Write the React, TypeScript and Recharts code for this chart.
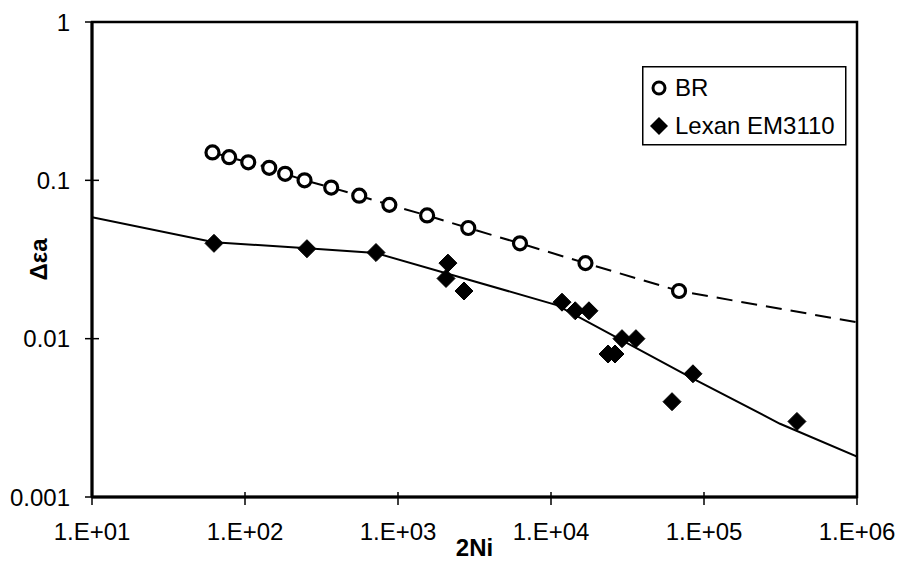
import React from "react";
import {
  ComposedChart,
  XAxis,
  YAxis,
  Line,
  Scatter,
  Legend,
  ReferenceArea,
  Label,
} from "recharts";

const FONT = '"Liberation Sans", Arial, sans-serif';

// axis ticks
const xTicks = [10, 100, 1000, 10000, 100000, 1000000];
const xTickLabels = ["1.E+01", "1.E+02", "1.E+03", "1.E+04", "1.E+05", "1.E+06"];
const yTicks = [0.001, 0.01, 0.1, 1];
const yTickLabels = ["0.001", "0.01", "0.1", "1"];

// series names
const brName = "BR";
const lexanName = "Lexan EM3110";

// BR measured points
const brX = [61.3, 78.8, 105, 144, 183, 245, 366, 558, 878, 1550, 2880, 6270, 16800, 68700];
const brY = [0.15, 0.14, 0.13, 0.12, 0.11, 0.1, 0.09, 0.08, 0.07, 0.06, 0.05, 0.04, 0.03, 0.02];

// BR dashed trend
const brTrendX = [61.3, 78.8, 105, 144, 183, 245, 366, 558, 878, 1550, 2880, 6270, 16800, 68700, 1000000];
const brTrendY = [0.15, 0.14, 0.13, 0.12, 0.11, 0.1, 0.09, 0.08, 0.07, 0.06, 0.05, 0.04, 0.03, 0.02, 0.0127];

// Lexan measured points
const lexanX = [62.7, 254, 718, 2120, 2060, 2700, 11800, 14400, 17700, 23600, 26200, 29100, 35900, 61800, 84700, 405000];
const lexanY = [0.04, 0.037, 0.035, 0.03, 0.024, 0.02, 0.017, 0.015, 0.015, 0.008, 0.008, 0.01, 0.01, 0.004, 0.006, 0.003];

// Lexan solid fit curve
const lexanFitX = [10, 62.7, 254, 718, 10900, 84700, 314000, 1000000];
const lexanFitY = [0.0585, 0.0407, 0.0372, 0.0347, 0.0163, 0.0056, 0.0029, 0.0018];

const zip = (xs: number[], ys: number[]) => xs.map((x, i) => ({ x, y: ys[i] }));

const brData = zip(brX, brY);
const brTrend = zip(brTrendX, brTrendY);
const lexanData = zip(lexanX, lexanY);
const lexanFit = zip(lexanFitX, lexanFitY);

const CircleShape = (props: any) => {
  const { cx, cy } = props;
  if (cx == null || cy == null) return null;
  return <circle cx={cx} cy={cy} r={6.5} fill="#fff" stroke="#000" strokeWidth={3.2} />;
};

const DiamondShape = (props: any) => {
  const { cx, cy } = props;
  if (cx == null || cy == null) return null;
  const h = 9;
  return (
    <polygon
      points={`${cx},${cy - h} ${cx + h},${cy} ${cx},${cy + h} ${cx - h},${cy}`}
      fill="#000"
      stroke="#000"
      strokeWidth={1}
    />
  );
};

const XTick = (props: any) => {
  const { x, y, payload } = props;
  const i = xTicks.indexOf(payload.value);
  return (
    <g>
      <line x1={x} x2={x} y1={y - 5} y2={y + 8} stroke="#000" strokeWidth={1.5} />
      <text x={x} y={y + 43} textAnchor="middle" fontSize={24} fontFamily={FONT} fill="#000">
        {i >= 0 ? xTickLabels[i] : ""}
      </text>
    </g>
  );
};

const YTick = (props: any) => {
  const { x, y, payload } = props;
  const i = yTicks.indexOf(payload.value);
  return (
    <g>
      <line x1={x - 7} x2={x + 7} y1={y} y2={y} stroke="#000" strokeWidth={1.5} />
      <text x={x - 22} y={y} dy="0.36em" textAnchor="end" fontSize={24} fontFamily={FONT} fill="#000">
        {i >= 0 ? yTickLabels[i] : ""}
      </text>
    </g>
  );
};

const YTitle = (props: any) => {
  const vb = props.viewBox || { x: 0, y: 22, width: 92, height: 475 };
  const cx = 38;
  const cy = vb.y + vb.height / 2;
  return (
    <text
      x={cx}
      y={cy}
      dy="0.36em"
      textAnchor="middle"
      transform={`rotate(-90, ${cx}, ${cy})`}
      fontSize={24}
      fontWeight="bold"
      fontFamily={FONT}
      fill="#000"
    >
      Δεa
    </text>
  );
};

const LegendBox = () => (
  <svg width={206} height={81} style={{ display: "block" }}>
    <rect x={0.75} y={0.75} width={203} height={78} fill="#fff" stroke="#000" strokeWidth={1.5} />
    <circle cx={17} cy={22} r={6} fill="#fff" stroke="#000" strokeWidth={3} />
    <text x={33} y={30} fontSize={24} fontFamily={FONT} fill="#000">
      {brName}
    </text>
    <polygon points="17,51 26,60 17,69 8,60" fill="#000" />
    <text x={33} y={68} fontSize={24} fontFamily={FONT} fill="#000">
      {lexanName}
    </text>
  </svg>
);

export default function App() {
  return (
    <div style={{ position: "absolute", left: 0, top: 0, width: 901, height: 579, background: "#fff" }}>
      <ComposedChart
        width={901}
        height={579}
        margin={{ top: 22, right: 44, bottom: 0, left: 0 }}
        style={{ fontFamily: FONT }}
      >
        <XAxis
          dataKey="x"
          type="number"
          scale="log"
          domain={[10, 1000000]}
          allowDataOverflow
          ticks={xTicks}
          tick={<XTick />}
          tickLine={false}
          tickSize={0}
          tickMargin={0}
          height={82}
          axisLine={{ stroke: "#000", strokeWidth: 3 }}
          interval={0}
        >
          <Label
            value="2Ni"
            position="insideBottom"
            offset={23}
            fontSize={24}
            fontWeight="bold"
            fontFamily={FONT}
            fill="#000"
          />
        </XAxis>
        <YAxis
          dataKey="y"
          type="number"
          scale="log"
          domain={[0.001, 1]}
          allowDataOverflow
          ticks={yTicks}
          tick={<YTick />}
          tickLine={false}
          tickSize={0}
          tickMargin={0}
          width={92}
          axisLine={{ stroke: "#000", strokeWidth: 3 }}
          interval={0}
        >
          <Label content={<YTitle />} />
        </YAxis>
        <ReferenceArea
          x1={10}
          x2={1000000}
          y1={0.001}
          y2={1}
          fill="none"
          fillOpacity={0}
          stroke="#000"
          strokeWidth={2.5}
          strokeOpacity={1}
        />
        <Line
          data={brTrend}
          dataKey="y"
          type="linear"
          stroke="#000"
          strokeWidth={2}
          strokeDasharray="16 9"
          dot={false}
          activeDot={false}
          legendType="none"
          isAnimationActive={false}
        />
        <Line
          data={lexanFit}
          dataKey="y"
          type="linear"
          stroke="#000"
          strokeWidth={2}
          dot={false}
          activeDot={false}
          legendType="none"
          isAnimationActive={false}
        />
        <Scatter name={brName} data={brData} shape={<CircleShape />} isAnimationActive={false} />
        <Scatter name={lexanName} data={lexanData} shape={<DiamondShape />} isAnimationActive={false} />
        <Legend
          layout="horizontal"
          verticalAlign="middle"
          align="center"
          content={() => <LegendBox />}
          wrapperStyle={{ left: 642, top: 66, width: 206, height: 81 }}
        />
      </ComposedChart>
    </div>
  );
}
